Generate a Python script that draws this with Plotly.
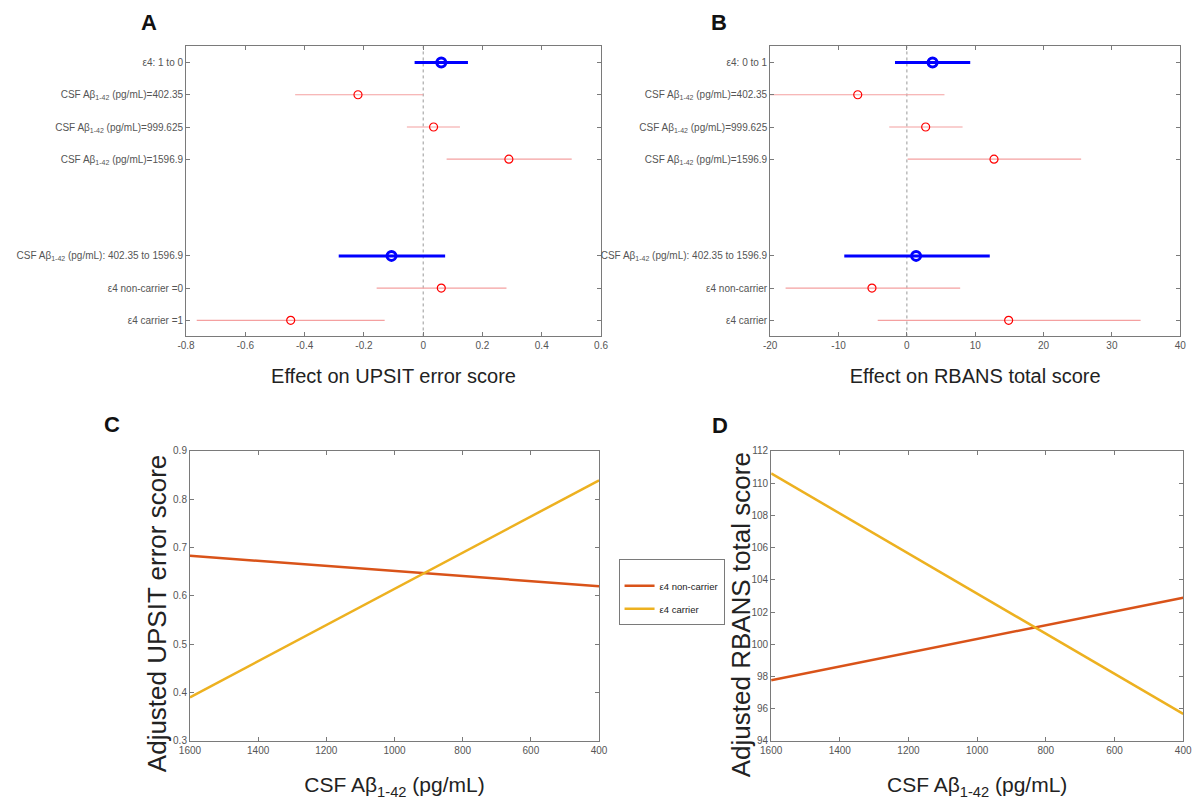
import plotly.graph_objects as go

# ---------------- data ----------------
rows_pos = [1, 2, 3, 4, 7, 8, 9]
labels_A = ["ε4: 1 to 0",
            "CSF Aβ<sub>1-42</sub> (pg/mL)=402.35",
            "CSF Aβ<sub>1-42</sub> (pg/mL)=999.625",
            "CSF Aβ<sub>1-42</sub> (pg/mL)=1596.9",
            "CSF Aβ<sub>1-42</sub> (pg/mL): 402.35 to 1596.9",
            "ε4 non-carrier =0",
            "ε4 carrier =1"]
labels_B = ["ε4: 0 to 1",
            "CSF Aβ<sub>1-42</sub> (pg/mL)=402.35",
            "CSF Aβ<sub>1-42</sub> (pg/mL)=999.625",
            "CSF Aβ<sub>1-42</sub> (pg/mL)=1596.9",
            "CSF Aβ<sub>1-42</sub> (pg/mL): 402.35 to 1596.9",
            "ε4 non-carrier",
            "ε4 carrier"]
# main effects (blue) are rows 0 and 4; simple effects (red) the others
is_main = [True, False, False, False, True, False, False]

est_A = [0.061, -0.220, 0.035, 0.289, -0.107, 0.061, -0.447]
lo_A = [-0.029, -0.432, -0.055, 0.079, -0.285, -0.157, -0.764]
hi_A = [0.151, 0.000, 0.124, 0.501, 0.074, 0.281, -0.130]

est_B = [3.76, -7.19, 2.75, 12.75, 1.35, -5.11, 14.89]
lo_B = [-1.74, -20.5, -2.58, 0.11, -9.16, -17.75, -4.27]
hi_B = [9.27, 5.50, 8.15, 25.50, 12.13, 7.80, 34.20]

csf = [1600, 400]
upsit_noncarrier = [0.683, 0.620]
upsit_carrier = [0.390, 0.839]
rbans_noncarrier = [97.77, 102.88]
rbans_carrier = [110.6, 95.68]

# ---------------- style ----------------
BLUE = "#0000FF"
RED = "#FF0000"
RED_LINE = "#F4A0A0"
ORANGE = "#D95319"
YELLOW = "#EDB120"
AX = "#7a7a7a"
TICKC = "#555555"
NARROW = "Liberation Sans Narrow, Arial Narrow, sans-serif"
WIDE = "Liberation Sans, Arial, sans-serif"

fig = go.Figure()


def forest(est, lo, hi, xa, ya):
    for i, y in enumerate(rows_pos):
        main = is_main[i]
        fig.add_trace(go.Scatter(
            x=[est[i]], y=[y], xaxis=xa, yaxis=ya, mode="markers",
            showlegend=False,
            marker=dict(symbol="circle-open", size=9 if main else 8,
                        color=BLUE if main else RED,
                        line=dict(width=3 if main else 1.2,
                                  color=BLUE if main else RED)),
            error_x=dict(type="data", symmetric=False,
                         array=[hi[i] - est[i]], arrayminus=[est[i] - lo[i]],
                         width=0, thickness=3 if main else 1.2,
                         color=BLUE if main else RED_LINE),
            cliponaxis=True,
        ))


forest(est_A, lo_A, hi_A, "x", "y")
forest(est_B, lo_B, hi_B, "x2", "y2")

# panel C / D lines
fig.add_trace(go.Scatter(x=csf, y=upsit_noncarrier, xaxis="x3", yaxis="y3",
                         mode="lines", name="ε4 non-carrier", legendgroup="nc",
                         line=dict(color=ORANGE, width=2.5)))
fig.add_trace(go.Scatter(x=csf, y=upsit_carrier, xaxis="x3", yaxis="y3",
                         mode="lines", name="ε4 carrier", legendgroup="c",
                         line=dict(color=YELLOW, width=2.5)))
fig.add_trace(go.Scatter(x=csf, y=rbans_noncarrier, xaxis="x4", yaxis="y4",
                         mode="lines", showlegend=False, legendgroup="nc",
                         line=dict(color=ORANGE, width=2.5)))
fig.add_trace(go.Scatter(x=csf, y=rbans_carrier, xaxis="x4", yaxis="y4",
                         mode="lines", showlegend=False, legendgroup="c",
                         line=dict(color=YELLOW, width=2.5)))


def axis_common(**kw):
    d = dict(showgrid=False, zeroline=False, showline=True, linecolor=AX,
             linewidth=1, mirror="ticks", ticks="inside", ticklen=4,
             tickcolor=AX, tickfont=dict(family=NARROW, size=10, color=TICKC))
    d.update(kw)
    return d


dA = [0.1481, 0.4992]
dB = [0.6423, 0.9892]
dC = [0.1514, 0.4975]
dD = [0.6431, 0.9917]
yTop = [0.5857, 0.9482]
yBot = [0.0801, 0.4427]

TITLE_FONT = dict(family=NARROW, size=20, color="#222")

fig.update_layout(
    width=1202, height=811,
    margin=dict(l=0, r=0, t=0, b=0),
    paper_bgcolor="white", plot_bgcolor="white",
    font=dict(family=NARROW, color="#222"),
    xaxis=axis_common(domain=dA, anchor="y", range=[-0.8, 0.6],
                      tickvals=[-0.8, -0.6, -0.4, -0.2, 0, 0.2, 0.4, 0.6],
                      ticktext=["-0.8", "-0.6", "-0.4", "-0.2", "0", "0.2", "0.4", "0.6"],
                      title=dict(text="Effect on UPSIT error score",
                                 font=TITLE_FONT, standoff=18)),
    yaxis=axis_common(domain=yTop, anchor="x", range=[9.5, 0.5],
                      tickvals=rows_pos, ticktext=labels_A),
    xaxis2=axis_common(domain=dB, anchor="y2", range=[-20, 40],
                       tickvals=[-20, -10, 0, 10, 20, 30, 40],
                       ticktext=["-20", "-10", "0", "10", "20", "30", "40"],
                       title=dict(text="Effect on RBANS total score",
                                  font=TITLE_FONT, standoff=18)),
    yaxis2=axis_common(domain=yTop, anchor="x2", range=[9.5, 0.5],
                       tickvals=rows_pos, ticktext=labels_B),
    xaxis3=axis_common(domain=dC, anchor="y3", range=[1600, 400], dtick=200,
                       title=dict(text="CSF Aβ<sub>1-42</sub> (pg/mL)",
                                  font=dict(family=NARROW, size=21, color="#222"),
                                  standoff=22)),
    yaxis3=axis_common(domain=yBot, anchor="x3", range=[0.3, 0.9], dtick=0.1),
    xaxis4=axis_common(domain=dD, anchor="y4", range=[1600, 400], dtick=200,
                       title=dict(text="CSF Aβ<sub>1-42</sub> (pg/mL)",
                                  font=dict(family=NARROW, size=21, color="#222"),
                                  standoff=22)),
    yaxis4=axis_common(domain=yBot, anchor="x4", range=[94, 112], dtick=2),
    legend=dict(x=0.514, y=0.308, xanchor="left", yanchor="top",
                bordercolor=AX, borderwidth=1, bgcolor="white",
                font=dict(family=NARROW, size=9.5, color="#222"),
                title=dict(text=" ", font=dict(size=9)),
                itemwidth=30, tracegroupgap=4),
    shapes=[
        dict(type="line", xref="x", yref="y domain", x0=0, x1=0, y0=0, y1=1,
             line=dict(color="#999", width=1, dash="dot"), layer="below"),
        dict(type="line", xref="x2", yref="y2 domain", x0=0, x1=0, y0=0, y1=1,
             line=dict(color="#999", width=1, dash="dot"), layer="below"),
    ],
    annotations=[
        dict(text="<b>A</b>", x=140 / 1202, y=1 - 18 / 811, xref="paper", yref="paper",
             xanchor="center", yanchor="middle",
             showarrow=False, font=dict(family=WIDE, size=22, color="#111")),
        dict(text="<b>B</b>", x=720 / 1202, y=1 - 18 / 811, xref="paper", yref="paper",
             xanchor="center", yanchor="middle",
             showarrow=False, font=dict(family=WIDE, size=22, color="#111")),
        dict(text="<b>C</b>", x=103 / 1202, y=1 - 425 / 811, xref="paper", yref="paper",
             xanchor="center", yanchor="middle",
             showarrow=False, font=dict(family=WIDE, size=22, color="#111")),
        dict(text="<b>D</b>", x=721 / 1202, y=1 - 426 / 811, xref="paper", yref="paper",
             xanchor="center", yanchor="middle",
             showarrow=False, font=dict(family=WIDE, size=22, color="#111")),
        dict(text="Adjusted UPSIT error score", textangle=-90,
             x=148 / 1202, y=1 - 617 / 811, xref="paper", yref="paper",
             xanchor="center", yanchor="middle", showarrow=False,
             font=dict(family=WIDE, size=26, color="#222")),
        dict(text="Adjusted RBANS total score", textangle=-90,
             x=742 / 1202, y=1 - 618 / 811, xref="paper", yref="paper",
             xanchor="center", yanchor="middle", showarrow=False,
             font=dict(family=WIDE, size=26, color="#222")),
    ],
)

fig.write_html("out.html")
